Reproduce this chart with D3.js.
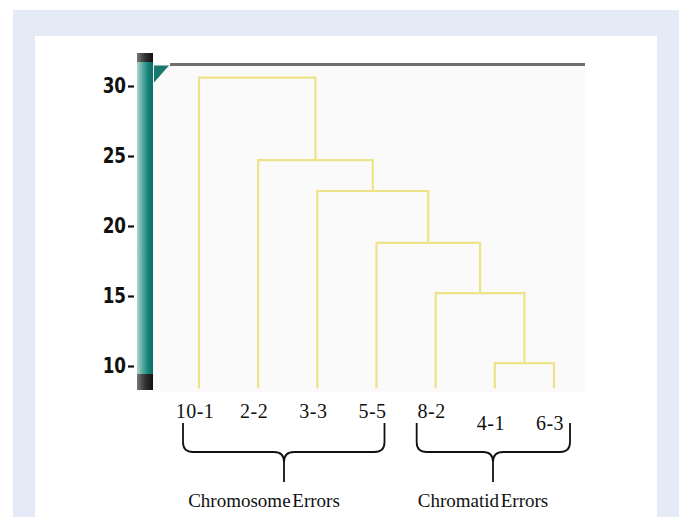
<!DOCTYPE html>
<html>
<head>
<meta charset="utf-8">
<script src="https://cdn.jsdelivr.net/npm/d3@7"></script>
<style>
  body { margin: 0; background: #fff; }
  svg { display: block; }
</style>
</head>
<body>
<svg id="chart" width="684" height="517"></svg>
<script>
// leaves, left to right
const leafLabels = ["10-1", "2-2", "3-3", "5-5", "8-2", "4-1", "6-3"];
// merges in order: [left, right, height]; ids "cN" are earlier merges
const mergeLeft = ["4-1", "8-2", "5-5", "3-3", "2-2", "10-1"];
const mergeRight = ["6-3", "c0", "c1", "c2", "c3", "c4"];
const mergeHeight = [10.2, 15.2, 18.8, 22.5, 24.7, 30.6];
const leafHeight = 8.4;
const cutHeight = 31.6;

const yTicks = [10, 15, 20, 25, 30];

const groupNames = ["Chromosome Errors", "Chromatid Errors"];
const groupFirst = ["10-1", "8-2"];
const groupLast = ["5-5", "6-3"];

const svg = d3.select("#chart");

// page frame
svg.append("rect").attr("x", 13).attr("y", 10).attr("width", 666).attr("height", 507).attr("fill", "#e4eaf6");
svg.append("rect").attr("x", 35).attr("y", 36).attr("width", 622).attr("height", 481).attr("fill", "#ffffff");

const x = d3.scalePoint().domain(leafLabels).range([199, 554]);
const y = d3.scaleLinear().domain([10, 30]).range([366, 86]);

// faint plot area
svg.append("rect")
    .attr("x", 153).attr("y", y(cutHeight))
    .attr("width", 432).attr("height", y(leafHeight) - y(cutHeight) + 4)
    .attr("fill", "#fafafa");

// build nodes
const nodes = {};
leafLabels.forEach(l => { nodes[l] = { x: x(l), h: leafHeight }; });
const links = [];
mergeHeight.forEach((h, i) => {
    const a = nodes[mergeLeft[i]], b = nodes[mergeRight[i]];
    const n = { x: (a.x + b.x) / 2, h: h };
    nodes["c" + i] = n;
    links.push({ a: a, b: b, n: n });
});

const g = svg.append("g");
links.forEach(d => {
    g.append("path")
        .attr("d", `M${d.a.x},${y(d.a.h)}V${y(d.n.h)}H${d.b.x}V${y(d.b.h)}`)
        .attr("fill", "none")
        .attr("stroke", "#efe38a")
        .attr("stroke-width", 2.2);
});

// cut line
svg.append("line")
    .attr("x1", 170).attr("x2", 585)
    .attr("y1", y(cutHeight) + 1).attr("y2", y(cutHeight) + 1)
    .attr("stroke", "#6e6e6e").attr("stroke-width", 3);

// teal slider bar
const defs = svg.append("defs");
const grad = defs.append("linearGradient").attr("id", "teal");
grad.append("stop").attr("offset", "0").attr("stop-color", "#b3d6cf");
grad.append("stop").attr("offset", "0.35").attr("stop-color", "#5aa89f");
grad.append("stop").attr("offset", "0.7").attr("stop-color", "#138479");
grad.append("stop").attr("offset", "1").attr("stop-color", "#0d6c64");
const capGrad = defs.append("linearGradient").attr("id", "cap");
capGrad.append("stop").attr("offset", "0").attr("stop-color", "#777");
capGrad.append("stop").attr("offset", "0.5").attr("stop-color", "#333");
capGrad.append("stop").attr("offset", "1").attr("stop-color", "#111");

svg.append("rect").attr("x", 137).attr("y", 53).attr("width", 16).attr("height", 337).attr("fill", "url(#teal)");
svg.append("rect").attr("x", 137).attr("y", 53).attr("width", 16).attr("height", 9).attr("fill", "url(#cap)");
svg.append("rect").attr("x", 137).attr("y", 374).attr("width", 16).attr("height", 16).attr("fill", "url(#cap)");

// marker
const ty = y(cutHeight);
svg.append("path")
    .attr("d", `M154,${ty + 2}L169,${ty + 2}L154,${ty + 19}Z`)
    .attr("fill", "#18786f");

// axis
const sx = 0.8;
const axis = svg.append("g")
    .attr("transform", "translate(134,0)")
    .call(d3.axisLeft(y).tickValues(yTicks).tickSize(6).tickPadding(2));
axis.select(".domain").remove();
axis.selectAll(".tick line").attr("stroke", "#111").attr("stroke-width", 2.2);
axis.selectAll(".tick text")
    .attr("fill", "#111")
    .attr("x", -8 / sx)
    .attr("transform", `scale(${sx},1)`)
    .style("font-family", "'DejaVu Sans', sans-serif")
    .style("font-weight", "bold")
    .style("font-size", "21px");

// leaf labels
svg.append("g").selectAll("text")
    .data(leafLabels)
    .join("text")
    .attr("x", d => x(d) - 4)
    .attr("y", (d, i) => i >= 5 ? 430 : 418)
    .attr("text-anchor", "middle")
    .style("font-family", "'Liberation Serif', 'Times New Roman', serif")
    .style("font-size", "20px")
    .style("letter-spacing", "0.5px")
    .attr("fill", "#111")
    .text(d => d);

// braces
const hy = 452, tip = 482, r = 10;
const armPad = [[-16, 8], [-19, 16]];
const textShift = [-20, -10];
groupNames.forEach((name, i) => {
    const x0 = x(groupFirst[i]) + armPad[i][0];
    const x1 = x(groupLast[i]) + armPad[i][1];
    const top = 423;
    const mid = Math.round((x0 + x1) / 2);
    svg.append("path")
        .attr("d", `M${x0},${top}V${hy - r}Q${x0},${hy} ${x0 + r},${hy}H${mid - r}Q${mid},${hy} ${mid},${hy + r}V${tip}` +
                   `M${mid},${hy + r}Q${mid},${hy} ${mid + r},${hy}H${x1 - r}Q${x1},${hy} ${x1},${hy - r}V${top}`)
        .attr("fill", "none")
        .attr("stroke", "#111")
        .attr("stroke-width", 1.8);
    svg.append("text")
        .attr("x", mid + textShift[i])
        .attr("y", 507)
        .attr("text-anchor", "middle")
        .style("font-family", "'Liberation Serif', 'Times New Roman', serif")
        .style("font-size", "19px")
        .style("word-spacing", "-3px")
        .attr("fill", "#111")
        .text(name);
});
</script>
</body>
</html>
